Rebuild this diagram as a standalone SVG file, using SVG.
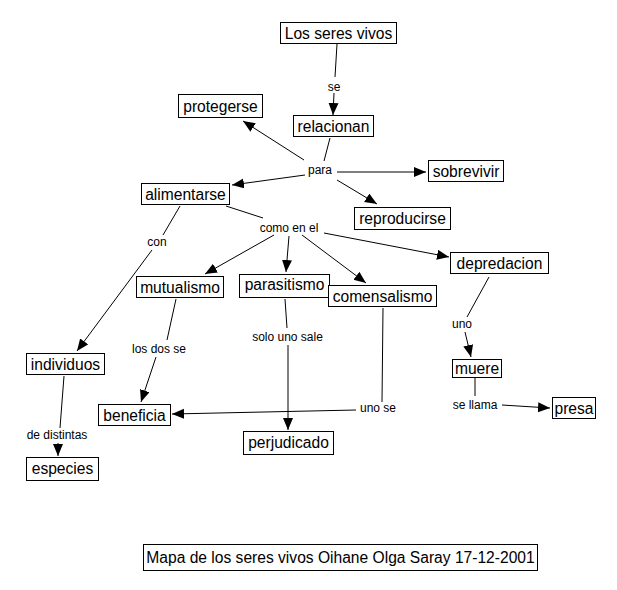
<svg xmlns="http://www.w3.org/2000/svg" width="617" height="590" viewBox="0 0 617 590">
<style>
.n rect{fill:#fff;stroke:#000;stroke-width:1}
.n text{font-family:"Liberation Sans",Arial,sans-serif;font-size:15.6px;fill:#000;text-anchor:middle}
.l{font-family:"Liberation Sans",Arial,sans-serif;font-size:12px;fill:#000;text-anchor:middle}
#connectors line{stroke:#000;stroke-width:1}
.a{marker-end:url(#ah)}
</style>
<defs>
<marker id="ah" markerUnits="userSpaceOnUse" markerWidth="13" markerHeight="11" refX="12" refY="5" orient="auto">
<path d="M0,0 L12,5 L0,10 z" fill="#000"/>
</marker>
</defs>
<rect width="617" height="590" fill="#fff"/>
<g id="connectors">
<line x1="337" y1="44" x2="335" y2="77"/>
<line class="a" x1="334" y1="93" x2="333" y2="115"/>
<line x1="330" y1="138" x2="324" y2="161"/>
<line class="a" x1="304" y1="160" x2="243" y2="121"/>
<line class="a" x1="305" y1="175" x2="232" y2="185"/>
<line class="a" x1="337" y1="172" x2="426" y2="172"/>
<line class="a" x1="337" y1="180" x2="377" y2="204"/>
<line x1="226" y1="206" x2="263" y2="218"/>
<line class="a" x1="274" y1="235" x2="205" y2="274"/>
<line class="a" x1="289" y1="236" x2="286" y2="272"/>
<line class="a" x1="302" y1="235" x2="366" y2="283"/>
<line class="a" x1="324" y1="233" x2="449" y2="257"/>
<line x1="180" y1="206" x2="163" y2="235"/>
<line class="a" x1="152" y1="250" x2="77" y2="351"/>
<line x1="64" y1="376" x2="60" y2="428"/>
<line class="a" x1="58" y1="443" x2="58" y2="456"/>
<line x1="176" y1="299" x2="167" y2="340"/>
<line class="a" x1="156" y1="357" x2="141" y2="402"/>
<line x1="285" y1="299" x2="287" y2="328"/>
<line class="a" x1="288" y1="345" x2="288" y2="430"/>
<line x1="383" y1="308" x2="382" y2="402"/>
<line class="a" x1="356" y1="410" x2="172" y2="414"/>
<line x1="489" y1="277" x2="467" y2="317"/>
<line class="a" x1="465" y1="332" x2="471" y2="357"/>
<line x1="475" y1="378" x2="475" y2="396"/>
<line class="a" x1="502" y1="405" x2="550" y2="408"/>
</g>
<g id="labels">
<text class="l" x="334" y="91">se</text>
<text class="l" x="320" y="174">para</text>
<text class="l" x="289" y="232">como en el</text>
<text class="l" x="157" y="246">con</text>
<text class="l" x="159" y="353">los dos se</text>
<text class="l" x="57" y="439">de distintas</text>
<text class="l" x="287.5" y="341">solo uno sale</text>
<text class="l" x="378" y="412">uno se</text>
<text class="l" x="462" y="328">uno</text>
<text class="l" x="475" y="409">se llama</text>
</g>
<g id="los-seres-vivos" class="n"><rect x="280.5" y="22.5" width="116" height="21"/><text x="338.5" y="38.5">Los seres vivos</text></g>
<g id="protegerse" class="n"><rect x="178.5" y="94.5" width="84" height="23"/><text x="220.5" y="111.5">protegerse</text></g>
<g id="relacionan" class="n"><rect x="293.5" y="115.5" width="80" height="21"/><text x="333.5" y="131.5">relacionan</text></g>
<g id="sobrevivir" class="n"><rect x="428.5" y="160.5" width="75" height="21"/><text x="466" y="176.5">sobrevivir</text></g>
<g id="alimentarse" class="n"><rect x="141.5" y="183.5" width="88" height="21"/><text x="185.5" y="199.5">alimentarse</text></g>
<g id="reproducirse" class="n"><rect x="354.5" y="207.5" width="96" height="22"/><text x="402.5" y="223.5">reproducirse</text></g>
<g id="depredacion" class="n"><rect x="450.5" y="252.5" width="98" height="21"/><text x="499.5" y="268.5">depredacion</text></g>
<g id="mutualismo" class="n"><rect x="136.5" y="276.5" width="87" height="21"/><text x="180" y="292.5">mutualismo</text></g>
<g id="parasitismo" class="n"><rect x="239.5" y="274.5" width="90" height="23"/><text x="284.5" y="290">parasitismo</text></g>
<g id="comensalismo" class="n"><rect x="328.5" y="285.5" width="108" height="21"/><text x="382.5" y="301.5">comensalismo</text></g>
<g id="individuos" class="n"><rect x="26.5" y="353.5" width="78" height="21"/><text x="65.5" y="369.5">individuos</text></g>
<g id="muere" class="n"><rect x="452.5" y="359.5" width="49" height="18"/><text x="477" y="374">muere</text></g>
<g id="presa" class="n"><rect x="552.5" y="397.5" width="43" height="21"/><text x="574" y="413.5">presa</text></g>
<g id="beneficia" class="n"><rect x="98.5" y="404.5" width="72" height="21"/><text x="134.5" y="420.5">beneficia</text></g>
<g id="perjudicado" class="n"><rect x="243.5" y="431.5" width="90" height="23"/><text x="288.5" y="448">perjudicado</text></g>
<g id="especies" class="n"><rect x="26.5" y="457.5" width="72" height="23"/><text x="62.5" y="474">especies</text></g>
<g id="titulo" class="n"><rect x="143.5" y="544.5" width="394" height="26"/><text x="340.5" y="562.5">Mapa de los seres vivos Oihane Olga Saray 17-12-2001</text></g>
</svg>
